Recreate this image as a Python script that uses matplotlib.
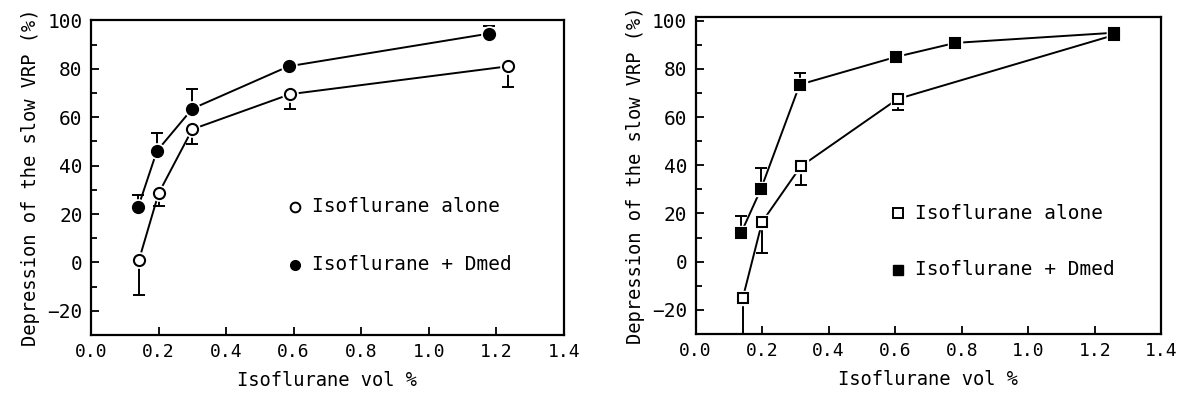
import matplotlib
matplotlib.use("Agg")
import matplotlib.pyplot as plt
from matplotlib.ticker import MultipleLocator

plt.rcParams['font.family'] = ['DejaVu Sans Mono']
plt.rcParams['font.size'] = 13.5

# left panel: circles
L_alone_x = [0.142, 0.20, 0.30, 0.59, 1.235]
L_alone_y = [1, 28.5, 55, 69.5, 81]
L_alone_err = [14.5, 5, 6, 6, 8.5]      # lower only
L_dmed_x = [0.140, 0.195, 0.30, 0.585, 1.178]
L_dmed_y = [23, 46, 63.5, 81, 94.5]
L_dmed_err = [5, 7.5, 8, 0, 3]          # upper only

# right panel: squares
R_alone_x = [0.142, 0.20, 0.316, 0.607, 1.257]
R_alone_y = [-15, 16.5, 39.5, 67.5, 94]
R_alone_err = [15, 13, 7.5, 4.5, 0]
R_dmed_x = [0.137, 0.196, 0.313, 0.603, 0.781, 1.257]
R_dmed_y = [12, 30, 73.5, 85, 90.8, 95]
R_dmed_err = [7, 9, 5, 2, 0, 0]

xlabel = "Isoflurane vol %"
ylabel = "Depression of the slow VRP (%)"
leg_labels = ["Isoflurane alone", "Isoflurane + Dmed"]


def draw_series(ax, x, y, err, marker, filled, lower):
    ms = 8 if marker == 'o' else 7.5
    face = 'black' if filled else 'white'
    if lower:
        yerr = [err, [0] * len(err)]
    else:
        yerr = [[0] * len(err), err]
    ax.errorbar(x, y, yerr=yerr, fmt='none', ecolor='black', elinewidth=1.4,
                capsize=4.5, capthick=1.4, zorder=2, clip_on=False)
    ax.plot(x, y, color='black', lw=1.4, zorder=1)
    # white halo so the line stops short of the marker
    ax.plot(x, y, ls='none', marker=marker, ms=ms + 3, mfc='white', mec='white', zorder=3)
    ax.plot(x, y, ls='none', marker=marker, ms=ms, mfc=face, mec='black', mew=1.5, zorder=4)


def style_axes(ax, ytop):
    ax.set_xlim(0, 1.4)
    ax.set_ylim(-30, ytop)
    ax.xaxis.set_major_locator(MultipleLocator(0.2))
    ax.yaxis.set_major_locator(MultipleLocator(20))
    ax.yaxis.set_minor_locator(MultipleLocator(10))
    ax.xaxis.set_major_formatter(plt.FuncFormatter(lambda v, p: f"{v:.1f}"))
    ax.tick_params(which='both', direction='in', width=1.3, top=False, right=False)
    ax.tick_params(which='major', length=6, pad=6)
    ax.tick_params(axis='y', labelsize=14)
    ax.tick_params(axis='x', labelsize=13)
    ax.tick_params(which='minor', length=4)
    for s in ax.spines.values():
        s.set_linewidth(1.6)
    ax.set_xlabel(xlabel, labelpad=7)
    ax.set_ylabel(ylabel, labelpad=5)


fig = plt.figure(figsize=(11.79, 3.98), dpi=100)
ax1 = fig.add_axes([0.0772, 0.158, 0.401, 0.791])
ax2 = fig.add_axes([0.590, 0.161, 0.395, 0.796])

draw_series(ax1, L_alone_x, L_alone_y, L_alone_err, 'o', False, True)
draw_series(ax1, L_dmed_x, L_dmed_y, L_dmed_err, 'o', True, False)
style_axes(ax1, 100)

draw_series(ax2, R_alone_x, R_alone_y, R_alone_err, 's', False, True)
draw_series(ax2, R_dmed_x, R_dmed_y, R_dmed_err, 's', True, False)
style_axes(ax2, 101.5)

# in-plot legends
ax1.plot([0.603], [23], ls='none', marker='o', ms=7, mfc='white', mec='black', mew=1.4)
ax1.plot([0.603], [-1], ls='none', marker='o', ms=7, mfc='black', mec='black')
ax1.text(0.653, 23, leg_labels[0], va='center', fontsize=14)
ax1.text(0.653, -1, leg_labels[1], va='center', fontsize=14)

ax2.plot([0.607], [20], ls='none', marker='s', ms=7, mfc='white', mec='black', mew=1.4)
ax2.plot([0.607], [-3.3], ls='none', marker='s', ms=7, mfc='black', mec='black')
ax2.text(0.66, 20, leg_labels[0], va='center', fontsize=14)
ax2.text(0.66, -3.3, leg_labels[1], va='center', fontsize=14)

fig.savefig("out.png", dpi=100)
